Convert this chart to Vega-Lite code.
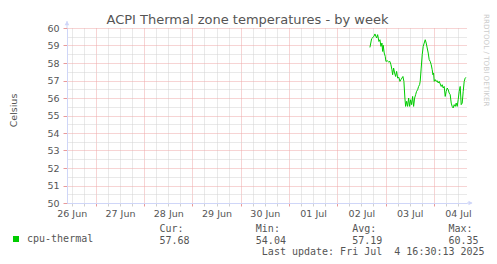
{
  "$schema": "https://vega.github.io/schema/vega-lite/v6.json",
  "width": 400,
  "height": 175,
  "autosize": {"type": "none"},
  "padding": {"left": 67, "top": 28, "right": 30, "bottom": 61},
  "background": "white",
  "config": {"view": {"stroke": null}, "font": "DejaVu Sans"},
  "title": {
    "text": "ACPI Thermal zone temperatures - by week",
    "font": "DejaVu Sans",
    "fontSize": 13,
    "fontWeight": "normal",
    "color": "#555555",
    "anchor": "middle",
    "frame": "group",
    "dx": -19.5,
    "offset": -23,
    "baseline": "alphabetic"
  },
  "resolve": {"axis": {"x": "independent", "y": "independent"}},
  "layer": [
    {
      "data": {
        "values": [
          {"time": "2025-07-02T16:15:00Z", "celsius": 58.89, "series": "cpu-thermal"},
          {"time": "2025-07-02T17:05:00Z", "celsius": 59.39, "series": "cpu-thermal"},
          {"time": "2025-07-02T18:14:00Z", "celsius": 59.52, "series": "cpu-thermal"},
          {"time": "2025-07-02T18:44:00Z", "celsius": 59.66, "series": "cpu-thermal"},
          {"time": "2025-07-02T19:35:00Z", "celsius": 59.43, "series": "cpu-thermal"},
          {"time": "2025-07-02T20:04:00Z", "celsius": 59.62, "series": "cpu-thermal"},
          {"time": "2025-07-02T20:43:00Z", "celsius": 59.23, "series": "cpu-thermal"},
          {"time": "2025-07-02T21:13:00Z", "celsius": 59.33, "series": "cpu-thermal"},
          {"time": "2025-07-02T21:43:00Z", "celsius": 58.95, "series": "cpu-thermal"},
          {"time": "2025-07-02T22:13:00Z", "celsius": 59.14, "series": "cpu-thermal"},
          {"time": "2025-07-02T22:34:00Z", "celsius": 58.66, "series": "cpu-thermal"},
          {"time": "2025-07-02T22:51:00Z", "celsius": 59.01, "series": "cpu-thermal"},
          {"time": "2025-07-02T23:21:00Z", "celsius": 58.57, "series": "cpu-thermal"},
          {"time": "2025-07-02T23:51:00Z", "celsius": 58.38, "series": "cpu-thermal"},
          {"time": "2025-07-03T00:12:00Z", "celsius": 58.09, "series": "cpu-thermal"},
          {"time": "2025-07-03T00:51:00Z", "celsius": 58.13, "series": "cpu-thermal"},
          {"time": "2025-07-03T01:32:00Z", "celsius": 58.06, "series": "cpu-thermal"},
          {"time": "2025-07-03T02:11:00Z", "celsius": 58.09, "series": "cpu-thermal"},
          {"time": "2025-07-03T02:41:00Z", "celsius": 57.90, "series": "cpu-thermal"},
          {"time": "2025-07-03T03:11:00Z", "celsius": 57.62, "series": "cpu-thermal"},
          {"time": "2025-07-03T03:32:00Z", "celsius": 57.33, "series": "cpu-thermal"},
          {"time": "2025-07-03T04:01:00Z", "celsius": 57.71, "series": "cpu-thermal"},
          {"time": "2025-07-03T04:31:00Z", "celsius": 57.43, "series": "cpu-thermal"},
          {"time": "2025-07-03T05:01:00Z", "celsius": 57.23, "series": "cpu-thermal"},
          {"time": "2025-07-03T05:31:00Z", "celsius": 57.52, "series": "cpu-thermal"},
          {"time": "2025-07-03T06:01:00Z", "celsius": 57.14, "series": "cpu-thermal"},
          {"time": "2025-07-03T06:39:00Z", "celsius": 57.18, "series": "cpu-thermal"},
          {"time": "2025-07-03T07:09:00Z", "celsius": 56.95, "series": "cpu-thermal"},
          {"time": "2025-07-03T07:39:00Z", "celsius": 57.05, "series": "cpu-thermal"},
          {"time": "2025-07-03T08:09:00Z", "celsius": 57.14, "series": "cpu-thermal"},
          {"time": "2025-07-03T08:39:00Z", "celsius": 57.23, "series": "cpu-thermal"},
          {"time": "2025-07-03T09:08:00Z", "celsius": 56.95, "series": "cpu-thermal"},
          {"time": "2025-07-03T09:38:00Z", "celsius": 56.00, "series": "cpu-thermal"},
          {"time": "2025-07-03T09:59:00Z", "celsius": 55.52, "series": "cpu-thermal"},
          {"time": "2025-07-03T10:29:00Z", "celsius": 55.81, "series": "cpu-thermal"},
          {"time": "2025-07-03T10:59:00Z", "celsius": 55.52, "series": "cpu-thermal"},
          {"time": "2025-07-03T11:29:00Z", "celsius": 56.00, "series": "cpu-thermal"},
          {"time": "2025-07-03T11:59:00Z", "celsius": 55.52, "series": "cpu-thermal"},
          {"time": "2025-07-03T12:28:00Z", "celsius": 55.90, "series": "cpu-thermal"},
          {"time": "2025-07-03T12:58:00Z", "celsius": 55.62, "series": "cpu-thermal"},
          {"time": "2025-07-03T13:28:00Z", "celsius": 56.09, "series": "cpu-thermal"},
          {"time": "2025-07-03T13:58:00Z", "celsius": 55.52, "series": "cpu-thermal"},
          {"time": "2025-07-03T14:28:00Z", "celsius": 56.00, "series": "cpu-thermal"},
          {"time": "2025-07-03T14:58:00Z", "celsius": 56.19, "series": "cpu-thermal"},
          {"time": "2025-07-03T15:27:00Z", "celsius": 56.38, "series": "cpu-thermal"},
          {"time": "2025-07-03T15:57:00Z", "celsius": 56.47, "series": "cpu-thermal"},
          {"time": "2025-07-03T16:27:00Z", "celsius": 56.66, "series": "cpu-thermal"},
          {"time": "2025-07-03T16:56:00Z", "celsius": 56.76, "series": "cpu-thermal"},
          {"time": "2025-07-03T17:14:00Z", "celsius": 56.95, "series": "cpu-thermal"},
          {"time": "2025-07-03T17:44:00Z", "celsius": 57.71, "series": "cpu-thermal"},
          {"time": "2025-07-03T18:14:00Z", "celsius": 58.47, "series": "cpu-thermal"},
          {"time": "2025-07-03T18:44:00Z", "celsius": 58.95, "series": "cpu-thermal"},
          {"time": "2025-07-03T19:14:00Z", "celsius": 59.14, "series": "cpu-thermal"},
          {"time": "2025-07-03T19:44:00Z", "celsius": 59.33, "series": "cpu-thermal"},
          {"time": "2025-07-03T20:13:00Z", "celsius": 59.14, "series": "cpu-thermal"},
          {"time": "2025-07-03T20:43:00Z", "celsius": 58.86, "series": "cpu-thermal"},
          {"time": "2025-07-03T21:13:00Z", "celsius": 58.57, "series": "cpu-thermal"},
          {"time": "2025-07-03T21:43:00Z", "celsius": 58.19, "series": "cpu-thermal"},
          {"time": "2025-07-03T22:13:00Z", "celsius": 58.09, "series": "cpu-thermal"},
          {"time": "2025-07-03T22:43:00Z", "celsius": 57.90, "series": "cpu-thermal"},
          {"time": "2025-07-03T23:12:00Z", "celsius": 57.62, "series": "cpu-thermal"},
          {"time": "2025-07-03T23:33:00Z", "celsius": 57.33, "series": "cpu-thermal"},
          {"time": "2025-07-03T23:54:00Z", "celsius": 57.43, "series": "cpu-thermal"},
          {"time": "2025-07-04T00:12:00Z", "celsius": 56.95, "series": "cpu-thermal"},
          {"time": "2025-07-04T00:42:00Z", "celsius": 57.05, "series": "cpu-thermal"},
          {"time": "2025-07-04T01:11:00Z", "celsius": 56.95, "series": "cpu-thermal"},
          {"time": "2025-07-04T01:41:00Z", "celsius": 56.99, "series": "cpu-thermal"},
          {"time": "2025-07-04T02:11:00Z", "celsius": 56.86, "series": "cpu-thermal"},
          {"time": "2025-07-04T02:41:00Z", "celsius": 56.95, "series": "cpu-thermal"},
          {"time": "2025-07-04T03:11:00Z", "celsius": 56.80, "series": "cpu-thermal"},
          {"time": "2025-07-04T03:41:00Z", "celsius": 56.66, "series": "cpu-thermal"},
          {"time": "2025-07-04T04:10:00Z", "celsius": 56.76, "series": "cpu-thermal"},
          {"time": "2025-07-04T04:40:00Z", "celsius": 56.57, "series": "cpu-thermal"},
          {"time": "2025-07-04T05:10:00Z", "celsius": 56.66, "series": "cpu-thermal"},
          {"time": "2025-07-04T05:40:00Z", "celsius": 56.09, "series": "cpu-thermal"},
          {"time": "2025-07-04T06:10:00Z", "celsius": 56.38, "series": "cpu-thermal"},
          {"time": "2025-07-04T06:40:00Z", "celsius": 56.57, "series": "cpu-thermal"},
          {"time": "2025-07-04T07:10:00Z", "celsius": 56.47, "series": "cpu-thermal"},
          {"time": "2025-07-04T07:39:00Z", "celsius": 56.28, "series": "cpu-thermal"},
          {"time": "2025-07-04T08:09:00Z", "celsius": 56.19, "series": "cpu-thermal"},
          {"time": "2025-07-04T08:39:00Z", "celsius": 55.71, "series": "cpu-thermal"},
          {"time": "2025-07-04T09:08:00Z", "celsius": 55.52, "series": "cpu-thermal"},
          {"time": "2025-07-04T09:38:00Z", "celsius": 55.43, "series": "cpu-thermal"},
          {"time": "2025-07-04T10:08:00Z", "celsius": 55.62, "series": "cpu-thermal"},
          {"time": "2025-07-04T10:38:00Z", "celsius": 55.52, "series": "cpu-thermal"},
          {"time": "2025-07-04T11:08:00Z", "celsius": 55.71, "series": "cpu-thermal"},
          {"time": "2025-07-04T11:38:00Z", "celsius": 55.52, "series": "cpu-thermal"},
          {"time": "2025-07-04T12:07:00Z", "celsius": 55.90, "series": "cpu-thermal"},
          {"time": "2025-07-04T12:37:00Z", "celsius": 56.38, "series": "cpu-thermal"},
          {"time": "2025-07-04T13:07:00Z", "celsius": 56.66, "series": "cpu-thermal"},
          {"time": "2025-07-04T13:37:00Z", "celsius": 55.62, "series": "cpu-thermal"},
          {"time": "2025-07-04T14:07:00Z", "celsius": 55.71, "series": "cpu-thermal"},
          {"time": "2025-07-04T14:37:00Z", "celsius": 56.38, "series": "cpu-thermal"},
          {"time": "2025-07-04T15:07:00Z", "celsius": 56.95, "series": "cpu-thermal"},
          {"time": "2025-07-04T15:36:00Z", "celsius": 57.14, "series": "cpu-thermal"},
          {"time": "2025-07-04T15:57:00Z", "celsius": 57.18, "series": "cpu-thermal"}
        ]
      },
      "mark": {"type": "line", "strokeWidth": 1, "color": "#00cc00"},
      "encoding": {
        "x": {
          "field": "time",
          "type": "temporal",
          "scale": {"type": "utc", "nice": false, "domain": [1750930800000, 1751646600000]},
          "axis": {
            "values": [1750939200000, 1750960800000, 1750982400000, 1751004000000, 1751025600000, 1751047200000, 1751068800000, 1751090400000, 1751112000000, 1751133600000, 1751155200000, 1751176800000, 1751198400000, 1751220000000, 1751241600000, 1751263200000, 1751284800000, 1751306400000, 1751328000000, 1751349600000, 1751371200000, 1751392800000, 1751414400000, 1751436000000, 1751457600000, 1751479200000, 1751500800000, 1751522400000, 1751544000000, 1751565600000, 1751587200000, 1751608800000, 1751630400000],
            "labelExpr": "utchours(datum.value) === 12 ? utcFormat(datum.value, '%d %b') : ''",
            "labelOverlap": false,
            "labelFlush": false,
            "labelBound": false,
            "labelFont": "DejaVu Sans",
            "labelFontSize": 9.5,
            "labelColor": "#555555",
            "labelPadding": 2,
            "tickSize": 3,
            "tickColor": {"condition": {"test": "utchours(datum.value) === 0", "value": "#e99a9a"}, "value": "#d0d0d0"},
            "grid": true,
            "gridColor": {"condition": {"test": "utchours(datum.value) === 0", "value": "#efa9a9"}, "value": "#d2d2d2"},
            "gridDash": [1, 1],
            "gridWidth": 1,
            "domainColor": "#CFD6F8",
            "domainWidth": 1,
            "title": [
              "Cur:\u00a0\u00a0\u00a0\u00a0\u00a0\u00a0\u00a0\u00a0\u00a0\u00a0\u00a0\u00a0Min:\u00a0\u00a0\u00a0\u00a0\u00a0\u00a0\u00a0\u00a0\u00a0\u00a0\u00a0\u00a0Avg:\u00a0\u00a0\u00a0\u00a0\u00a0\u00a0\u00a0\u00a0\u00a0\u00a0\u00a0\u00a0Max:",
              "57.68\u00a0\u00a0\u00a0\u00a0\u00a0\u00a0\u00a0\u00a0\u00a0\u00a0\u00a054.04\u00a0\u00a0\u00a0\u00a0\u00a0\u00a0\u00a0\u00a0\u00a0\u00a0\u00a057.19\u00a0\u00a0\u00a0\u00a0\u00a0\u00a0\u00a0\u00a0\u00a0\u00a0\u00a060.35",
              "\u200b\u00a0\u00a0\u00a0\u00a0\u00a0\u00a0\u00a0\u00a0\u00a0\u00a0\u00a0\u00a0\u00a0\u00a0\u00a0\u00a0\u00a0Last\u00a0update:\u00a0Fri\u00a0Jul\u00a0\u00a04\u00a016:30:13\u00a02025"
            ],
            "titleFont": "DejaVu Sans Mono",
            "titleFontSize": 10,
            "titleFontWeight": "normal",
            "titleColor": "#555555",
            "titleX": 92,
            "titleY": 28.5,
            "titleAlign": "left",
            "titleBaseline": "alphabetic",
            "titleLineHeight": 11.7
          }
        },
        "y": {
          "field": "celsius",
          "type": "quantitative",
          "scale": {"domain": [50, 60], "nice": false, "zero": false},
          "axis": {
            "orient": "left",
            "values": [50, 50.5, 51, 51.5, 52, 52.5, 53, 53.5, 54, 54.5, 55, 55.5, 56, 56.5, 57, 57.5, 58, 58.5, 59, 59.5, 60],
            "labelExpr": "datum.value % 1 === 0 ? format(datum.value, 'd') : ''",
            "labelOverlap": false,
            "labelFont": "DejaVu Sans",
            "labelFontSize": 9.5,
            "labelColor": "#555555",
            "labelPadding": 4,
            "tickSize": 4,
            "tickColor": {"condition": {"test": "datum.value % 1 === 0", "value": "#e99a9a"}, "value": "transparent"},
            "grid": true,
            "gridColor": {"condition": {"test": "datum.value % 1 === 0", "value": "#efa9a9"}, "value": "#d2d2d2"},
            "gridDash": [1, 1],
            "gridWidth": 1,
            "domainColor": "#CFD6F8",
            "title": "Celsius",
            "titleFont": "DejaVu Sans",
            "titleFontSize": 9.5,
            "titleFontWeight": "normal",
            "titleColor": "#555555",
            "titleAngle": 270,
            "titleX": -53.5,
            "titleY": 82,
            "titleAlign": "center",
            "titleBaseline": "middle"
          }
        },
        "color": {
          "field": "series",
          "type": "nominal",
          "scale": {"range": ["#00cc00"]},
          "legend": {
            "orient": "none",
            "legendX": -56,
            "legendY": 206,
            "title": null,
            "padding": 0,
            "symbolType": "square",
            "symbolSize": 36,
            "symbolFillColor": "#00cc00",
            "symbolStrokeColor": "#00cc00",
            "symbolStrokeWidth": 0,
            "labelFont": "DejaVu Sans Mono",
            "labelFontSize": 10,
            "labelColor": "#555555",
            "labelOffset": 6
          }
        }
      }
    },
    {
      "data": {"values": [{"label": "RRDTOOL / TOBI OETIKER"}]},
      "mark": {"type": "text", "angle": 90, "align": "left", "baseline": "middle", "font": "DejaVu Sans", "fontSize": 7.2, "color": "#cccccc"},
      "encoding": {
        "x": {"datum": 1751681000000, "type": "temporal", "axis": null},
        "y": {"datum": 60.8, "type": "quantitative", "axis": null},
        "text": {"field": "label"}
      }
    },
    {
      "data": {"values": [{}]},
      "mark": {"type": "rule", "color": "#CFD6F8", "strokeWidth": 1},
      "encoding": {
        "x": {"datum": 1750930800000, "type": "temporal", "axis": null},
        "y": {"datum": 60, "type": "quantitative", "axis": null},
        "y2": {"datum": 60.4}
      }
    },
    {
      "data": {"values": [{}]},
      "mark": {"type": "point", "shape": "triangle-up", "filled": true, "size": 22, "color": "#CFD6F8", "opacity": 1},
      "encoding": {
        "x": {"datum": 1750930800000, "type": "temporal", "axis": null},
        "y": {"datum": 60.28, "type": "quantitative", "axis": null}
      }
    },
    {
      "data": {"values": [{}]},
      "mark": {"type": "rule", "color": "#CFD6F8", "strokeWidth": 1},
      "encoding": {
        "x": {"datum": 1751646600000, "type": "temporal", "axis": null},
        "x2": {"datum": 1751655600000},
        "y": {"datum": 50, "type": "quantitative", "axis": null}
      }
    },
    {
      "data": {"values": [{}]},
      "mark": {"type": "point", "shape": "triangle-right", "filled": true, "size": 22, "color": "#CFD6F8", "opacity": 1},
      "encoding": {
        "x": {"datum": 1751652900000, "type": "temporal", "axis": null},
        "y": {"datum": 50, "type": "quantitative", "axis": null}
      }
    }
  ]
}
